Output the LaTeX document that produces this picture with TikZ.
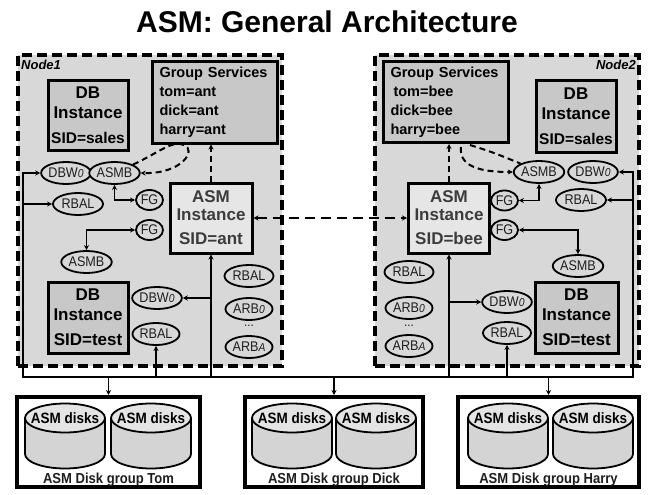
\documentclass[tikz,border=0pt]{standalone}
\usepackage{fontspec}
\setmainfont{Liberation Sans}
\newfontfamily\condfont[FakeStretch=0.9]{Liberation Sans}
\usetikzlibrary{shapes.geometric,arrows.meta}
\definecolor{nodebg}{RGB}{216,216,216}
\definecolor{gsfill}{RGB}{200,200,200}
\definecolor{asmfill}{RGB}{230,230,230}
\definecolor{diskbody}{RGB}{212,212,212}
\definecolor{disktop}{RGB}{228,228,228}
\definecolor{txtgray}{RGB}{60,60,60}
\definecolor{ovaltxt}{RGB}{30,30,30}
\newcommand{\subit}[1]{{\itshape\fontsize{11.5}{11.5}\selectfont #1}}
\tikzset{
  nodearea/.style={draw, line width=3.5pt, dash pattern=on 10pt off 5pt, fill=nodebg, inner sep=0pt},
  gsbox/.style={draw, line width=3pt, fill=gsfill, inner sep=0pt, text width=110pt, align=left,
    minimum width=125pt, minimum height=81pt, font=\bfseries\fontsize{14.5}{19}\selectfont},
  dbbox/.style={draw, line width=3pt, fill=gsfill, inner sep=0pt, align=center,
    font=\bfseries\fontsize{17}{20}\selectfont},
  asmbox/.style={draw, line width=3pt, fill=asmfill, inner sep=0pt, align=center, text=txtgray,
    font=\bfseries\fontsize{17}{18}\selectfont},
  oval/.style={ellipse, draw, line width=1.8pt, fill=nodebg, inner sep=0pt, minimum height=22pt,
    minimum width=47pt, text=ovaltxt, font=\condfont\fontsize{14}{14}\selectfont},
  conn/.style={line width=1.6pt},
  onearrow/.style={conn, -{Stealth[length=5pt,width=5pt]}},
  twoarrow/.style={conn, {Stealth[length=5pt,width=5pt]}-{Stealth[length=5pt,width=5pt]}},
  dashconn/.style={line width=2pt, dash pattern=on 6pt off 4pt},
  dashbig/.style={line width=2.2pt, dash pattern=on 10pt off 6pt},
  dgbox/.style={draw, line width=4pt, fill=white, inner sep=0pt, minimum height=90pt},
  dglabel/.style={font=\condfont\bfseries\fontsize{14.5}{14.5}\selectfont, inner sep=0pt, text=ovaltxt},
  disktext/.style={font=\condfont\bfseries\fontsize{15}{15}\selectfont, inner sep=0pt},
  nodelabel/.style={font=\bfseries\itshape\fontsize{13}{13}\selectfont, inner sep=0pt}
}
\begin{document}
\begin{tikzpicture}[x=1pt,y=-1pt]
\useasboundingbox (0,0) rectangle (656,495);
\fill[white] (0,0) rectangle (656,495);

\node[font=\bfseries\fontsize{30}{30}\selectfont] (title) at (327,22) {ASM: General Architecture};

% node areas
\node[nodearea, minimum width=264pt, minimum height=311pt] (n1) at (150,210.5) {};
\node[nodearea, minimum width=264pt, minimum height=311pt] (n2) at (507,210.5) {};
\node[nodelabel, anchor=west] (lab1) at (21,65) {Node1};
\node[nodelabel, anchor=east] (lab2) at (636,65) {Node2};

% Node1 boxes
\node[gsbox] (gs1) at (214.5,102.5) {Group Services\\tom=ant\\dick=ant\\harry=ant};
\node[dbbox, minimum width=80pt, minimum height=69pt] (db1a) at (88,115.5)
  {DB\\Instance\\[5pt]{\fontsize{15.5}{20}\selectfont SID=sales}};
\node[dbbox, minimum width=80pt, minimum height=71pt] (db1b) at (88,317.5)
  {DB\\Instance\\[5pt]SID=test};
\node[asmbox, minimum width=82pt, minimum height=70pt] (asm1) at (211,218)
  {ASM\\Instance\\[6pt]SID=ant};

% Node2 boxes
\node[gsbox] (gs2) at (445.5,102) {Group Services\\\hspace*{3pt}tom=bee\\dick=bee\\harry=bee};
\node[dbbox, minimum width=80pt, minimum height=71pt] (db2a) at (576,116.5)
  {DB\\Instance\\[5pt]{\fontsize{15.5}{20}\selectfont SID=sales}};
\node[dbbox, minimum width=83pt, minimum height=71pt] (db2b) at (576.5,317.5)
  {DB\\Instance\\[5pt]SID=test};
\node[asmbox, minimum width=81pt, minimum height=70pt] (asm2) at (449,218)
  {ASM\\Instance\\[6pt]SID=bee};

% Node1 ovals
\node[oval, minimum width=46pt] (dbw1a) at (66,173) {DBW\subit{0}};
\node[oval] (asmb1a) at (114.5,173) {ASMB};
\node[oval, minimum width=50pt] (rbal1a) at (78,204) {RBAL};
\node[oval, minimum width=27pt, minimum height=20pt] (fg1a) at (149.5,200) {FG};
\node[oval, minimum width=27pt, minimum height=20pt] (fg1b) at (149.5,230) {FG};
\node[oval] (asmb1b) at (86.5,262) {ASMB};
\node[oval] (dbw1b) at (157,298) {DBW\subit{0}};
\node[oval] (rbal1b) at (156,334) {RBAL};
\node[oval, minimum width=49pt] (rbal1c) at (249,276) {RBAL};
\node[oval] (arb1a) at (249,309) {ARB\subit{0}};
\node[font=\condfont\fontsize{13}{13}\selectfont, inner sep=0pt, text=ovaltxt] (dots1) at (249,326) {...};
\node[oval] (arb1b) at (249,347) {ARB\subit{A}};

% Node2 ovals
\node[oval, minimum width=41pt] (asmb2a) at (539,172) {ASMB};
\node[oval, minimum width=45pt] (dbw2a) at (593,172) {DBW\subit{0}};
\node[oval, minimum width=50pt] (rbal2a) at (581,200) {RBAL};
\node[oval, minimum width=27pt, minimum height=20pt] (fg2a) at (504.5,200.5) {FG};
\node[oval, minimum width=27pt, minimum height=20pt] (fg2b) at (504.5,230) {FG};
\node[oval, minimum width=48pt] (asmb2b) at (578,266) {ASMB};
\node[oval, minimum width=49pt] (rbal2c) at (409,272) {RBAL};
\node[oval] (arb2a) at (409,308) {ARB\subit{0}};
\node[font=\condfont\fontsize{13}{13}\selectfont, inner sep=0pt, text=ovaltxt] (dots2) at (409,326) {...};
\node[oval] (arb2b) at (409,346) {ARB\subit{A}};
\node[oval, minimum width=48pt] (dbw2b) at (507,302) {DBW\subit{0}};
\node[oval, minimum width=48pt] (rbal2b) at (507,333) {RBAL};

% disk groups
\node[dgbox, minimum width=183pt] (tom) at (108.5,442) {};
\node[dgbox, minimum width=178pt] (dick) at (334,442) {};
\node[dgbox, minimum width=181pt] (harry) at (548.5,442) {};
\foreach \cx/\nm in {65/c1,151/c2,292/c3,376/c4,508/c5,593/c6}{
  \draw[line width=1.8pt, fill=diskbody] (\cx-40,418) -- (\cx-40,454)
    arc[start angle=180, end angle=360, x radius=40pt, y radius=14.5pt] -- (\cx+40,418);
  \draw[line width=1.8pt, fill=disktop] (\cx,418) ellipse [x radius=40pt, y radius=14.5pt];
  \node[disktext] (\nm) at (\cx,418) {ASM disks};
}
\node[dglabel] (tomlab) at (108.5,479.5) {ASM Disk group Tom};
\node[dglabel] (dicklab) at (334,479.5) {ASM Disk group Dick};
\node[dglabel] (harrylab) at (548.5,479.5) {ASM Disk group Harry};

% bus coordinates
\coordinate (b1) at (23,377);
\coordinate (b2) at (156,377);
\coordinate (b3) at (211,377);
\coordinate (b4) at (449,377);
\coordinate (b5) at (507,377);
\coordinate (b6) at (633,377);
\coordinate (d1) at (108.5,377);
\coordinate (d2) at (334,377);
\coordinate (d3) at (548.5,377);

\draw[conn, line cap=rect] (b1) -- (b6);
\draw[onearrow] (d1) -- (tom);
\draw[onearrow] (d2) -- (dick);
\draw[onearrow] (d3) -- (harry);

% Node1 connectors
\draw[onearrow] (b1) |- (dbw1a);
\draw[onearrow] (b1 |- rbal1a) -- (rbal1a);
\draw[twoarrow] (asmb1a.south) |- (fg1a);
\draw[twoarrow] (asmb1b.north) |- (fg1b);
\draw[onearrow] (b3) -- (asm1);
\draw[onearrow] (b3 |- dbw1b) -- (dbw1b);
\draw[onearrow] (b2) -- (rbal1b);
\draw[dashconn, -{Stealth[length=5pt,width=5pt]}] (asm1.north) -- (asm1.north |- gs1.south);
\draw[dashconn, -{Stealth[length=5pt,width=5pt]}] (asmb1a.north east)
  .. controls (160,152) and (172,140) .. (184,145)
  .. controls (197,150) and (182,174) .. (asmb1a.east);

% Node2 connectors
\draw[onearrow] (b6) |- (dbw2a);
\draw[onearrow] (b6 |- rbal2a) -- (rbal2a);
\draw[twoarrow] (asmb2a.south) |- (fg2a);
\draw[twoarrow] (fg2b) -| (asmb2b.north);
\draw[onearrow] (b4) -- (asm2);
\draw[onearrow] (b4 |- dbw2b) -- (dbw2b);
\draw[onearrow] (b5) -- (rbal2b);
\draw[dashconn, -{Stealth[length=5pt,width=5pt]}] (asm2.north) -- (asm2.north |- gs2.south);
\coordinate (g2a) at (470,145);
\coordinate (g2b) at (461,147);
\draw[dashconn] (g2a) .. controls (492,152) .. (asmb2a.north west);
\draw[dashconn, -{Stealth[length=5pt,width=5pt]}] (g2b) .. controls (458,170) and (490,172) .. (asmb2a.west);

% between ASM instances
\draw[dashbig, {Stealth[length=5pt,width=5pt]}-{Stealth[length=5pt,width=5pt]}] (asm1.east) -- (asm2.west);
\end{tikzpicture}
\end{document}
